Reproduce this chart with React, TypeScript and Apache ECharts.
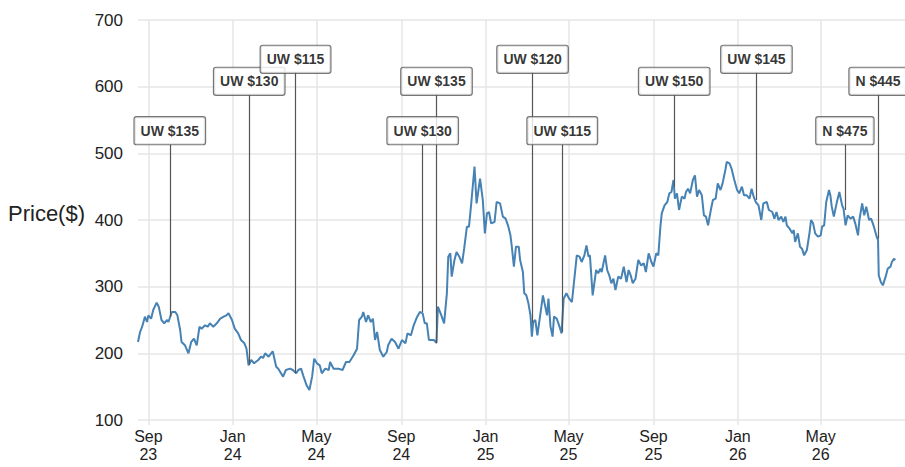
import React, { useEffect, useRef } from "react";
import * as echarts from "echarts";

// ---------- data ----------
const axisStart = "2023-08-17";
const axisEnd = "2026-08-31";

const priceDates = [
  "2023-08-17","2023-08-20","2023-08-23","2023-08-27","2023-08-30","2023-09-01","2023-09-05","2023-09-08","2023-09-13","2023-09-16",
  "2023-09-20","2023-09-24","2023-09-28","2023-09-30","2023-10-05","2023-10-10","2023-10-13","2023-10-17","2023-10-19","2023-10-24",
  "2023-10-29","2023-11-02","2023-11-06","2023-11-10","2023-11-14","2023-11-17","2023-11-22","2023-11-26","2023-11-29","2023-12-04",
  "2023-12-09","2023-12-14","2023-12-19","2023-12-23","2023-12-26","2023-12-31","2024-01-04","2024-01-09","2024-01-13","2024-01-18",
  "2024-01-21","2024-01-24","2024-01-28","2024-02-01","2024-02-07","2024-02-11","2024-02-14","2024-02-17","2024-02-22","2024-02-28",
  "2024-03-04","2024-03-07","2024-03-14","2024-03-18","2024-03-24","2024-03-28","2024-04-02","2024-04-05","2024-04-09","2024-04-12",
  "2024-04-17","2024-04-21","2024-04-25","2024-04-28","2024-05-02","2024-05-06","2024-05-09","2024-05-14","2024-05-19","2024-05-21",
  "2024-05-26","2024-06-02","2024-06-08","2024-06-13","2024-06-18","2024-06-24","2024-06-29","2024-07-02","2024-07-06","2024-07-08",
  "2024-07-12","2024-07-15","2024-07-19","2024-07-22","2024-07-25","2024-07-28","2024-08-01","2024-08-06","2024-08-11","2024-08-13",
  "2024-08-18","2024-08-23","2024-08-28","2024-09-02","2024-09-07","2024-09-10","2024-09-15","2024-09-19","2024-09-24","2024-09-28",
  "2024-10-02","2024-10-05","2024-10-08","2024-10-11","2024-10-18","2024-10-22","2024-10-24","2024-10-29","2024-11-02","2024-11-06",
  "2024-11-08","2024-11-11","2024-11-13","2024-11-17","2024-11-20","2024-11-24","2024-11-28","2024-12-01","2024-12-05","2024-12-08",
  "2024-12-11","2024-12-13","2024-12-16","2024-12-19","2024-12-24","2024-12-28","2024-12-31","2025-01-03","2025-01-06","2025-01-09",
  "2025-01-14","2025-01-17","2025-01-22","2025-01-26","2025-01-30","2025-02-03","2025-02-06","2025-02-08","2025-02-11","2025-02-14",
  "2025-02-18","2025-02-20","2025-02-24","2025-02-26","2025-03-01","2025-03-04","2025-03-07","2025-03-09","2025-03-11","2025-03-14",
  "2025-03-17","2025-03-21","2025-03-25","2025-03-28","2025-03-31","2025-04-02","2025-04-05","2025-04-08","2025-04-10","2025-04-14",
  "2025-04-18","2025-04-21","2025-04-24","2025-04-28","2025-05-02","2025-05-06","2025-05-09","2025-05-13","2025-05-17","2025-05-20",
  "2025-05-24","2025-05-27","2025-05-30","2025-06-01","2025-06-05","2025-06-07","2025-06-10","2025-06-13","2025-06-16","2025-06-18",
  "2025-06-23","2025-06-26","2025-06-29","2025-07-02","2025-07-05","2025-07-08","2025-07-12","2025-07-16","2025-07-20","2025-07-24",
  "2025-07-27","2025-07-30","2025-08-02","2025-08-06","2025-08-10","2025-08-14","2025-08-18","2025-08-21","2025-08-25","2025-08-29",
  "2025-09-01","2025-09-05","2025-09-08","2025-09-11","2025-09-13","2025-09-17","2025-09-21","2025-09-24","2025-09-27","2025-09-30",
  "2025-10-02","2025-10-05","2025-10-08","2025-10-12","2025-10-16","2025-10-18","2025-10-21","2025-10-24","2025-10-28","2025-10-31",
  "2025-11-03","2025-11-06","2025-11-10","2025-11-13","2025-11-16","2025-11-19","2025-11-23","2025-11-26","2025-11-30","2025-12-03",
  "2025-12-07","2025-12-10","2025-12-14","2025-12-16","2025-12-20","2025-12-23","2025-12-27","2025-12-31","2026-01-03","2026-01-07",
  "2026-01-10","2026-01-14","2026-01-18","2026-01-21","2026-01-24","2026-01-27","2026-01-31","2026-02-04","2026-02-07","2026-02-12",
  "2026-02-15","2026-02-20","2026-02-23","2026-02-26","2026-03-01","2026-03-05","2026-03-08","2026-03-11","2026-03-13","2026-03-17",
  "2026-03-21","2026-03-23","2026-03-25","2026-03-29","2026-04-01","2026-04-04","2026-04-07","2026-04-11","2026-04-15","2026-04-17",
  "2026-04-20","2026-04-23","2026-04-27","2026-05-01","2026-05-03","2026-05-06","2026-05-09","2026-05-13","2026-05-15","2026-05-17",
  "2026-05-20","2026-05-24","2026-05-28","2026-06-01","2026-06-03","2026-06-06","2026-06-09","2026-06-13","2026-06-17","2026-06-20",
  "2026-06-24","2026-06-26","2026-06-30","2026-07-03","2026-07-06","2026-07-10","2026-07-13","2026-07-17","2026-07-21","2026-07-23",
  "2026-07-24","2026-07-27","2026-07-30","2026-08-03","2026-08-06","2026-08-10","2026-08-12","2026-08-15","2026-08-17"
];

const priceValues = [
  217,232,240,255,247,257,252,265,276,270,
  250,245,250,247,262,262,257,235,217,212,
  200,217,222,212,240,237,242,240,245,240,
  245,252,255,257,260,250,237,230,220,215,
  207,182,190,185,190,195,193,200,195,203,
  180,177,165,175,177,175,170,175,177,167,
  152,145,165,192,185,182,170,177,175,187,
  177,177,175,187,187,197,207,250,255,262,
  247,257,247,252,220,232,205,195,202,212,
  222,217,207,220,215,230,227,242,255,262,
  260,245,245,220,220,216,270,257,245,290,
  345,350,315,340,352,345,335,357,390,390,
  422,445,480,425,462,430,380,410,412,395,
  397,427,425,405,402,390,377,360,330,360,
  360,340,322,290,287,275,257,225,247,250,
  227,257,287,272,257,282,240,225,255,252,
  240,230,282,290,282,277,307,347,345,337,
  347,362,345,347,287,302,325,320,327,322,
  347,325,317,305,312,295,315,312,330,307,
  325,317,305,312,340,332,335,322,350,337,
  330,350,347,390,410,422,427,440,442,460,
  432,440,415,435,432,442,447,440,460,467,
  435,445,437,407,405,392,415,430,432,455,
  445,455,475,487,485,477,460,445,440,450,
  437,437,432,447,435,427,422,400,425,427,
  415,412,402,412,400,405,397,405,392,387,
  380,385,367,380,360,357,347,355,382,400,
  395,380,375,377,390,392,427,445,437,420,
  405,425,442,422,417,392,407,402,405,395,
  377,400,425,407,420,400,402,390,375,370,
  317,307,302,315,327,330,337,342,340
];

// analyst notes: label, date, price where the stem meets the line, box row (0 low, 1 mid, 2 top)
const noteLabels = ["UW $135","UW $130","UW $115","UW $130","UW $135","UW $120","UW $115","UW $150","UW $145","N $475","N $445"];
const noteDates = ["2023-10-02","2024-01-25","2024-04-01","2024-10-02","2024-10-22","2025-03-10","2025-04-22","2025-10-01","2026-01-28","2026-06-05","2026-07-23"];
const notePrices = [255,183,170,262,215,246,232,450,430,415,372];
const noteRows = [0,1,2,0,1,2,0,1,2,0,1];
const rowCenters = [534,608,641];
const rowBottoms = [514,588,622];

const monthNames = ["Jan","Feb","Mar","Apr","May","Jun","Jul","Aug","Sep","Oct","Nov","Dec"];
const labelMonths = ["01","05","09"];

function buildDays(start: string, end: string): string[] {
  const out: string[] = [];
  let t = Date.parse(start + "T00:00:00Z");
  const e = Date.parse(end + "T00:00:00Z");
  while (t <= e) {
    out.push(new Date(t).toISOString().slice(0, 10));
    t += 86400000;
  }
  return out;
}

export default function App() {
  const ref = useRef<HTMLDivElement>(null);

  useEffect(() => {
    if (!ref.current) return;
    const chart = echarts.init(ref.current, undefined, { renderer: "svg" });

    const days = buildDays(axisStart, axisEnd);
    const dayIndex: Record<string, number> = {};
    days.forEach((d, i) => (dayIndex[d] = i));

    const isLabelDay = (_i: number, v: string) =>
      v.slice(8, 10) === "01" && labelMonths.includes(v.slice(5, 7));

    const grid = "#e6e6e6";
    const font = "'Liberation Sans', Arial, Helvetica, sans-serif";

    const lineData = priceDates.map((d, i) => [dayIndex[d], priceValues[i]]);
    const stems = noteDates.map((d, i) => [
      { coord: [dayIndex[d], notePrices[i]] },
      { coord: [dayIndex[d], rowBottoms[noteRows[i]]] },
    ]);
    const boxes = noteDates.map((d, i) => ({
      name: noteLabels[i],
      value: [dayIndex[d], rowCenters[noteRows[i]]],
    }));

    chart.setOption({
      animation: false,
      textStyle: { fontFamily: font },
      grid: {
        left: 138,
        right: 0,
        top: 20,
        bottom: 47,
        containLabel: false,
        outerBoundsMode: "none",
      },
      graphic: [
        {
          type: "text",
          x: 8,
          y: 213,
          style: {
            text: "Price($)",
            fontSize: 22,
            fontFamily: font,
            fill: "#222",
            verticalAlign: "middle",
          },
        },
      ],
      xAxis: {
        type: "category",
        data: days,
        boundaryGap: false,
        axisLine: { show: false },
        axisTick: {
          show: true,
          interval: isLabelDay,
          length: 5,
          lineStyle: { color: grid, width: 1.5 },
        },
        splitLine: {
          show: true,
          interval: isLabelDay,
          lineStyle: { color: grid, width: 1.5 },
        },
        axisLabel: {
          interval: isLabelDay,
          margin: 7,
          fontSize: 16,
          lineHeight: 18,
          color: "#222",
          fontFamily: font,
          formatter: (v: string) =>
            monthNames[parseInt(v.slice(5, 7), 10) - 1] + "\n" + v.slice(2, 4),
        },
      },
      yAxis: {
        type: "value",
        min: 100,
        max: 700,
        interval: 100,
        axisLine: { show: false },
        axisTick: { show: false },
        splitLine: { lineStyle: { color: grid, width: 1.5 } },
        axisLabel: { fontSize: 17, color: "#222", margin: 15, fontFamily: font },
      },
      series: [
        {
          type: "line",
          data: lineData,
          symbol: "none",
          showSymbol: false,
          lineStyle: { color: "#4682b4", width: 2 },
          z: 3,
          markLine: {
            silent: true,
            symbol: ["none", "none"],
            label: { show: false },
            lineStyle: { color: "#555", width: 1.2, type: "solid" },
            data: stems,
          },
        },
        {
          type: "scatter",
          data: boxes,
          symbolSize: 1,
          silent: true,
          itemStyle: { color: "rgba(0,0,0,0)" },
          z: 5,
          label: {
            show: true,
            position: "inside",
            formatter: "{b}",
            backgroundColor: "#fff",
            borderColor: "#555",
            borderWidth: 1.2,
            borderRadius: 2,
            padding: [6, 6, 5, 6],
            fontSize: 14,
            lineHeight: 16,
            fontWeight: "bold",
            color: "#000",
            fontFamily: font,
          },
        },
      ],
    });

    return () => chart.dispose();
  }, []);

  return (
    <div
      ref={ref}
      style={{ position: "fixed", left: 0, top: 0, width: 905, height: 467, background: "#fff" }}
    />
  );
}
